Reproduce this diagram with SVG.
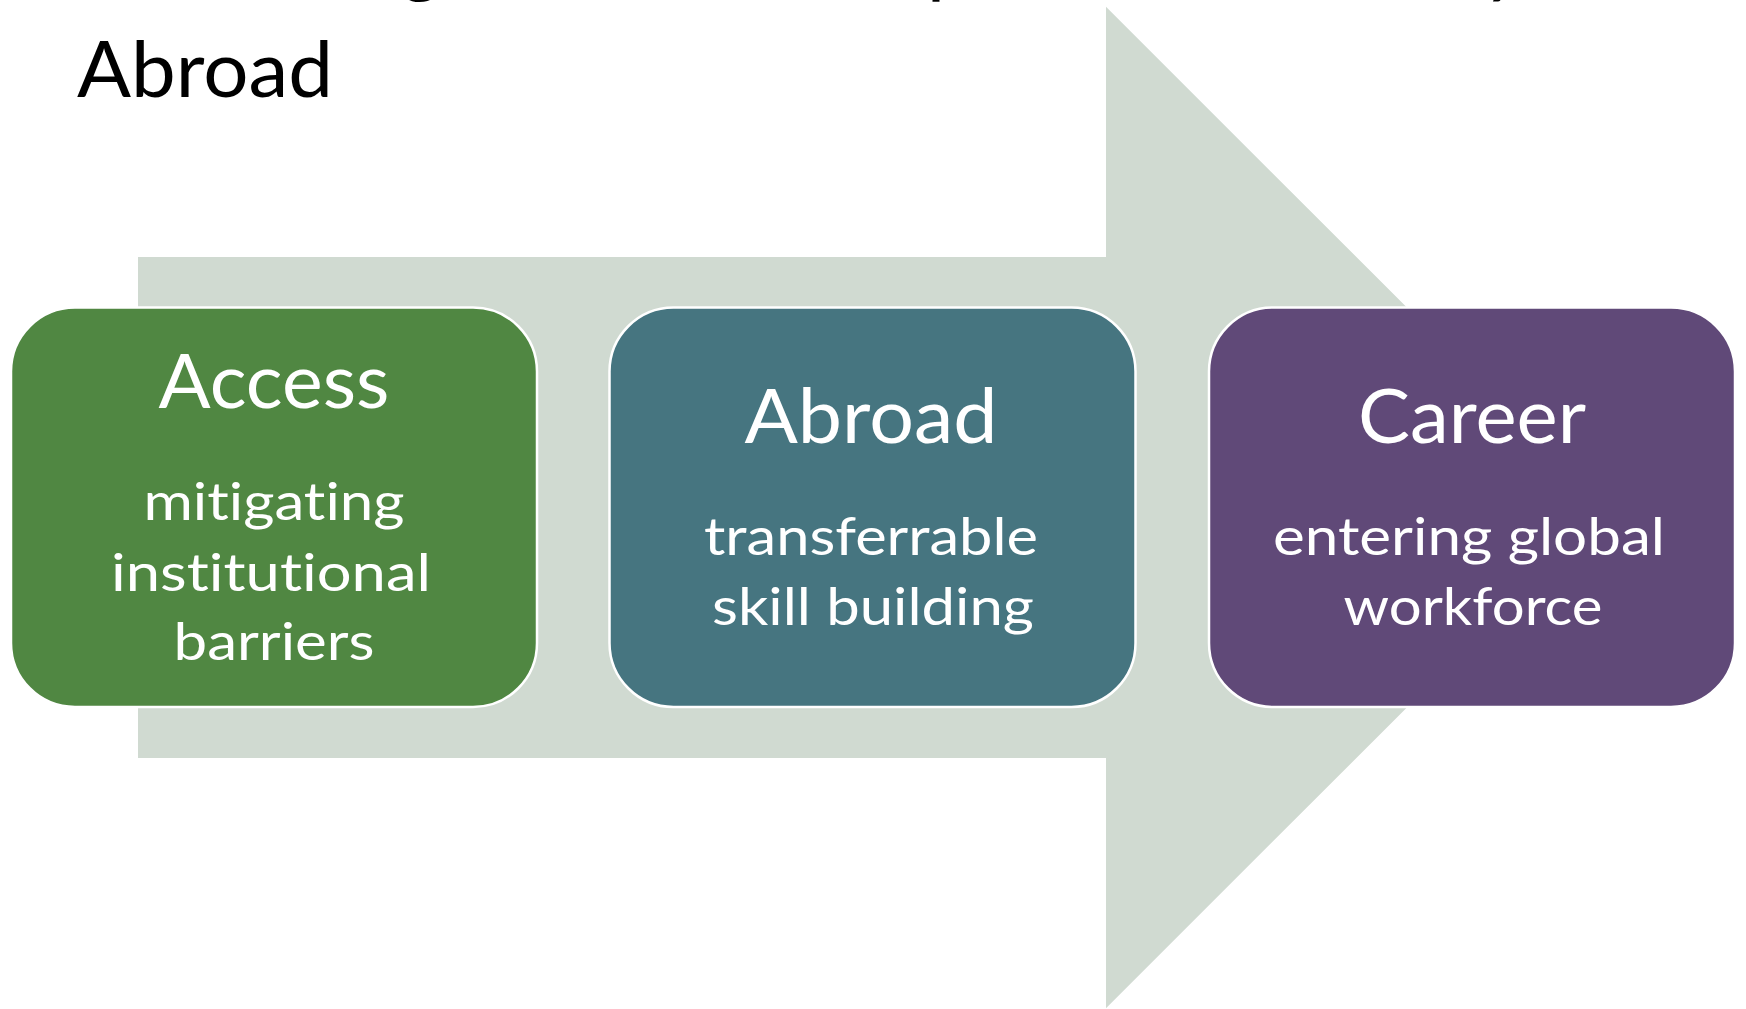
<svg xmlns="http://www.w3.org/2000/svg" width="1746" height="1009" viewBox="0 0 1746 1009">
  <style>
    .bg { fill: #ffffff; }
    .arrow { fill: #D0DAD1; }
    .box { stroke: #ffffff; stroke-width: 2.5; }
    text { font-variant-ligatures: none; font-feature-settings: "liga" 0, "clig" 0; }
    .head { font-family: Lato, "Open Sans", sans-serif; font-size: 76px; fill: #ffffff; text-anchor: middle; }
    .sub { font-family: Lato, "Open Sans", sans-serif; font-size: 53px; fill: #ffffff; text-anchor: middle; }
    .title { font-family: Lato, "Open Sans", sans-serif; font-size: 78px; fill: #000000; }
  </style>
  <rect class="bg" x="0" y="0" width="1746" height="1009"/>
  <g id="title">
    <text class="title" x="400" y="-13">g</text>
    <text class="title" x="927" y="-12">p</text>
    <text class="title" x="1483" y="-12">y</text>
    <text class="title" x="77" y="97" textLength="256" lengthAdjust="spacingAndGlyphs">Abroad</text>
  </g>
  <g id="connectors">
    <polygon class="arrow" points="138,257 1106,257 1106,6.7 1607,507.5 1106,1008.3 1106,758 138,758"/>
  </g>
  <g id="node-access">
    <rect class="box" x="11" y="307.5" width="526" height="399.5" rx="64" ry="64" fill="#508742"/>
    <text class="head" x="274" y="408" textLength="231" lengthAdjust="spacingAndGlyphs">Access</text>
    <text class="sub" x="274" y="520" textLength="261" lengthAdjust="spacingAndGlyphs">mitigating</text>
    <text class="sub" x="271" y="591" textLength="320" lengthAdjust="spacingAndGlyphs">institutional</text>
    <text class="sub" x="274" y="660" textLength="201" lengthAdjust="spacingAndGlyphs">barriers</text>
  </g>
  <g id="node-abroad">
    <rect class="box" x="609.5" y="307.5" width="526" height="399.5" rx="64" ry="64" fill="#467580"/>
    <text class="head" x="871" y="443" textLength="253" lengthAdjust="spacingAndGlyphs">Abroad</text>
    <text class="sub" x="871" y="555" textLength="334" lengthAdjust="spacingAndGlyphs">transferrable</text>
    <text class="sub" x="873" y="625" textLength="322" lengthAdjust="spacingAndGlyphs">skill building</text>
  </g>
  <g id="node-career">
    <rect class="box" x="1209" y="307.5" width="526" height="399.5" rx="64" ry="64" fill="#604978"/>
    <text class="head" x="1472" y="443" textLength="228" lengthAdjust="spacingAndGlyphs">Career</text>
    <text class="sub" x="1469" y="555" textLength="392" lengthAdjust="spacingAndGlyphs">entering global</text>
    <text class="sub" x="1473" y="625" textLength="259" lengthAdjust="spacingAndGlyphs">workforce</text>
  </g>
</svg>
